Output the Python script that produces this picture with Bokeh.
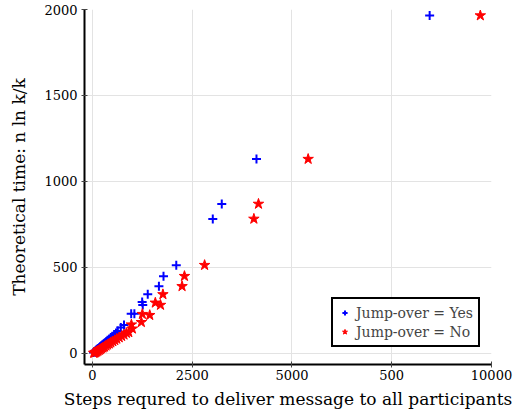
from bokeh.plotting import figure
from bokeh.embed import file_html
from bokeh.resources import INLINE
from bokeh.models import Range1d, FixedTicker, Legend, LegendItem

# Jump-over = Yes (blue plus)
yes_x = [8450, 4110, 3240, 3015, 2100, 1780, 1665, 1385, 1245, 1260, 970, 1050,
         790, 710, 635, 590, 545, 500, 460, 420, 380, 345, 310, 280, 250, 220,
         190, 165, 140, 115, 95, 75, 55, 40, 25]
yes_y = [1965, 1130, 869, 782, 513, 449, 390, 343, 298, 281, 230, 230,
         165, 150, 130, 118, 108, 100, 92, 84, 76, 69, 62, 56, 50, 44,
         38, 33, 28, 23, 19, 15, 11, 8, 5]

# Jump-over = No (red star)
no_x = [9720, 5405, 4160, 4045, 2810, 2305, 2245, 1765, 1575, 1705, 1250, 1435,
        1225, 975, 1000, 910, 850, 790, 730, 670, 610, 560, 510, 460, 420, 380,
        340, 300, 265, 230, 200, 170, 140, 115, 90, 70, 50, 30]
no_y = [1965, 1130, 869, 782, 513, 449, 390, 343, 294, 281, 228, 222,
        181, 167, 143, 122, 118, 108, 100, 92, 84, 76, 69, 62, 56, 50,
        44, 38, 33, 28, 23, 19, 15, 11, 8, 5, 3, 2]

x_ticks = [0, 2500, 5000, 7500, 10000]
x_tick_labels = ["0", "2500", "5000", "500", "10000"]
y_ticks = [0, 500, 1000, 1500, 2000]

FONT = "DejaVu Serif"

p = figure(width=515, height=411, output_backend="svg", toolbar_location=None,
           x_range=Range1d(-200, 10000), y_range=Range1d(-65, 2000),
           min_border_left=84, min_border_right=24, min_border_top=9,
           min_border_bottom=0)
p.outline_line_color = None
p.background_fill_color = "white"

p.xaxis.ticker = FixedTicker(ticks=x_ticks)
p.xaxis.major_label_overrides = {t: l for t, l in zip(x_ticks, x_tick_labels)}
p.yaxis.ticker = FixedTicker(ticks=y_ticks)

for ax in (p.xaxis, p.yaxis):
    ax.axis_line_width = 2
    ax.axis_line_color = "black"
    ax.major_tick_in = 3
    ax.major_tick_out = 3
    ax.major_tick_line_color = "#444444"
    ax.minor_tick_line_color = None
    ax.major_label_text_font = FONT
    ax.major_label_text_font_size = "13px"
    ax.major_label_text_color = "black"
    ax.axis_label_text_font = FONT
    ax.axis_label_text_font_size = "17px"
    ax.axis_label_text_font_style = "normal"
    ax.axis_label_text_color = "black"

p.xaxis.major_label_standoff = 2
p.yaxis.major_label_standoff = 4
p.xaxis.axis_label = "Steps requred to deliver message to all participants"
p.yaxis.axis_label = "Theoretical time: n ln k/k"
p.xaxis.axis_label_standoff = 6
p.yaxis.axis_label_standoff = 12

p.xgrid.grid_line_color = "#e3e3e3"
p.ygrid.grid_line_color = "#e3e3e3"
p.xgrid.ticker = FixedTicker(ticks=x_ticks)
p.ygrid.ticker = FixedTicker(ticks=y_ticks)

r_yes = p.scatter(yes_x, yes_y, marker="cross", size=9, line_color="blue",
                  line_width=2)
r_no = p.scatter(no_x, no_y, marker="star", size=11, fill_color="red",
                 line_color="red", line_width=1)

legend = Legend(items=[LegendItem(label="Jump-over = Yes", renderers=[r_yes]),
                       LegendItem(label="Jump-over = No", renderers=[r_no])],
                location=(247, 17), margin=0, padding=5, spacing=2,
                border_line_color="black", border_line_width=2,
                border_line_alpha=1,
                label_text_font=FONT, label_text_font_size="14px",
                glyph_width=13, glyph_height=17, label_standoff=5,
                label_height=17, background_fill_alpha=1)
p.add_layout(legend, "center")

open("out.html", "w").write(file_html(p, INLINE))
